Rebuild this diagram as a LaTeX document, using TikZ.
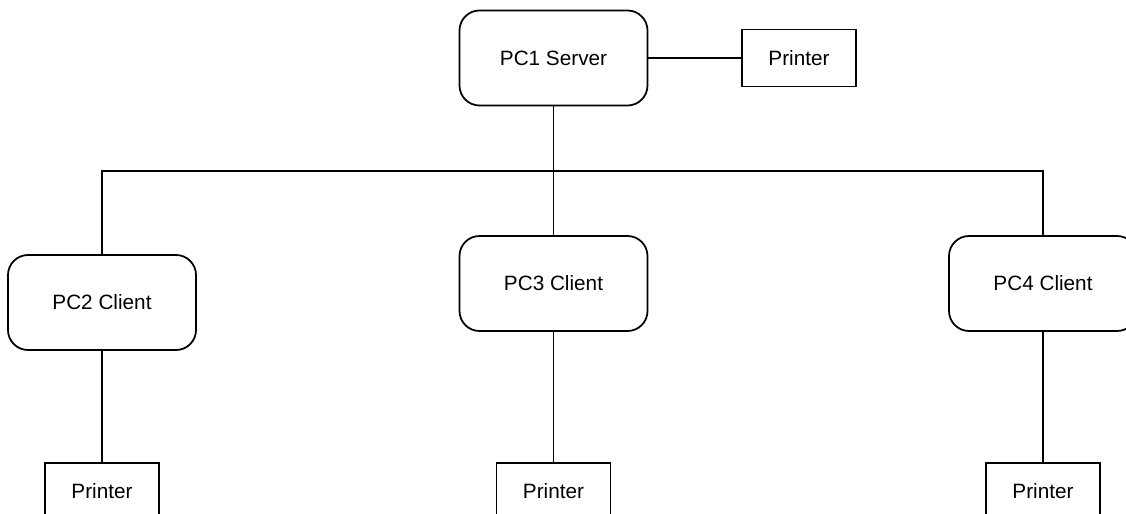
\documentclass[tikz,border=0pt]{standalone}
\usepackage{fontspec}
\setmainfont{Liberation Sans}
\usepackage{tikz}
\usetikzlibrary{positioning}

\begin{document}
\begin{tikzpicture}[
pc/.style={rectangle, rounded corners=0.4cm, draw=black, line width=1pt, minimum width=3.76cm, minimum height=1.9cm, font=\fontsize{11.8}{14}\selectfont},
printer/.style={rectangle, draw=black, line width=1pt, minimum width=2.28cm, minimum height=1.14cm, font=\fontsize{11.8}{14}\selectfont},
node distance=1cm
]
\useasboundingbox (0,0) rectangle (22.52,-10.28);
\clip (0,0) rectangle (22.52,-10.28);

%Nodes
\node[pc]       (srv)    at (11.07,-1.16)                         {PC1 Server};
\node[printer]  (prt1)   [right of = srv, xshift= 3.91cm]          {Printer};
\node[pc]       (pc3)    [below of = srv, yshift= -3.51cm]         {PC3 Client};
\node[pc]       (pc2)    [left of = pc3, xshift= -8.03cm, yshift= -0.38cm] {PC2 Client};
\node[pc]       (pc4)    [right of = pc3, xshift= 8.79cm]          {PC4 Client};
\node[printer]  (prt2)   [below of = pc2, yshift= -2.78cm]         {Printer};
\node[printer]  (prt3)   [below of = pc3, yshift= -3.16cm]         {Printer};
\node[printer]  (prt4)   [below of = pc4, yshift= -3.16cm]         {Printer};
\coordinate     (bus)    at (11.07,-3.42);

%Lines
\draw[line width=1pt] (srv) -- (prt1);
\draw[line width=1pt] (srv) -- (bus);
\draw[line width=1pt] (bus) -- (pc3);
\draw[line width=1pt] (pc2) |- (bus) -| (pc4);
\draw[line width=1pt] (pc2) -- (prt2);
\draw[line width=1pt] (pc3) -- (prt3);
\draw[line width=1pt] (pc4) -- (prt4);
\end{tikzpicture}
\end{document}
